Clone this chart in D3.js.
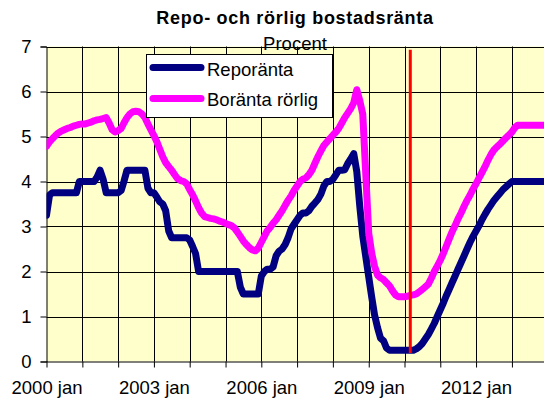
<!DOCTYPE html>
<html>
<head>
<meta charset="utf-8">
<script src="https://cdn.jsdelivr.net/npm/d3@7"></script>
<style>
  body { margin: 0; background: #fff; }
  text { font-family: "Liberation Sans", Arial, sans-serif; fill: #000; }
</style>
</head>
<body>
<div id="chart"></div>
<script>
// monthly values, first month is 2000 jan
const startMonth = "2000-01";

const repo = [
  3.25, 3.7, 3.75, 3.75, 3.75, 3.75, 3.75, 3.75, 3.75, 3.75, 3.75, 4.0,
  4.0, 4.0, 4.0, 4.0, 4.0, 4.1, 4.25, 4.05, 3.75, 3.75, 3.75, 3.75,
  3.75, 3.8, 4.0, 4.25, 4.25, 4.25, 4.25, 4.25, 4.25, 4.25, 3.85, 3.75,
  3.75, 3.65, 3.55, 3.5, 3.35, 2.9, 2.75, 2.75, 2.75, 2.75, 2.75, 2.75,
  2.7, 2.55, 2.4, 2.0, 2.0, 2.0, 2.0, 2.0, 2.0, 2.0, 2.0, 2.0,
  2.0, 2.0, 2.0, 2.0, 2.0, 1.65, 1.5, 1.5, 1.5, 1.5, 1.5, 1.5,
  1.9, 2.0, 2.05, 2.05, 2.1, 2.35, 2.45, 2.5, 2.6, 2.75, 2.95, 3.05,
  3.15, 3.25, 3.3, 3.3, 3.35, 3.45, 3.52, 3.6, 3.72, 3.9, 4.0, 4.0,
  4.05, 4.15, 4.25, 4.25, 4.26, 4.4, 4.5, 4.62, 4.22, 3.46, 2.79, 2.34,
  1.88, 1.42, 1.04, 0.75, 0.52, 0.46, 0.3, 0.25, 0.25, 0.25, 0.25, 0.25,
  0.25, 0.25, 0.25, 0.25, 0.28, 0.33, 0.4, 0.5, 0.6, 0.72, 0.85, 1.0,
  1.15, 1.3, 1.45, 1.6, 1.75, 1.9, 2.05, 2.2, 2.35, 2.5, 2.65, 2.78,
  2.9, 3.02, 3.15, 3.27, 3.38, 3.48, 3.58, 3.66, 3.74, 3.82, 3.88, 3.94,
  4.0, 4.0, 4.0, 4.0, 4.0, 4.0, 4.0, 4.0, 4.0, 4.0, 4.0, 4.0,
  4.0, 4.0, 4.0, 4.0, 4.0, 4.0
];

const bolan = [
  4.78, 4.88, 4.95, 5.02, 5.08, 5.12, 5.15, 5.18, 5.2, 5.23, 5.25, 5.27,
  5.28, 5.28, 5.3, 5.32, 5.35, 5.37, 5.38, 5.4, 5.42, 5.3, 5.15, 5.1,
  5.13, 5.18, 5.3, 5.42, 5.5, 5.55, 5.56, 5.55, 5.5, 5.42, 5.28, 5.15,
  5.02, 4.88, 4.72, 4.55, 4.42, 4.33, 4.25, 4.15, 4.06, 4.02, 4.0, 3.95,
  3.82, 3.7, 3.57, 3.42, 3.3, 3.22, 3.2, 3.18, 3.17, 3.15, 3.12, 3.1,
  3.07, 3.04, 3.02, 2.97, 2.88, 2.78, 2.68, 2.6, 2.53, 2.48, 2.46, 2.52,
  2.65, 2.78, 2.9, 2.98, 3.07, 3.15, 3.25, 3.35, 3.47, 3.58, 3.68, 3.8,
  3.9, 4.0, 4.05, 4.08, 4.15, 4.25, 4.4, 4.55, 4.68, 4.8, 4.88, 4.95,
  5.03, 5.1, 5.18, 5.3, 5.42, 5.52, 5.62, 5.75, 6.04, 5.8, 5.5, 4.2,
  2.85, 2.4, 2.12, 1.92, 1.86, 1.82, 1.75, 1.68, 1.57, 1.48, 1.44, 1.44,
  1.44, 1.45, 1.47, 1.48, 1.5, 1.55, 1.6, 1.66, 1.72, 1.85, 2.0, 2.12,
  2.25, 2.4, 2.55, 2.72, 2.88, 3.02, 3.17, 3.3, 3.45, 3.58, 3.7, 3.83,
  3.95, 4.08, 4.2, 4.33, 4.47, 4.6, 4.7, 4.77, 4.83, 4.9, 4.97, 5.03,
  5.1, 5.2, 5.25, 5.25, 5.25, 5.25, 5.25, 5.25, 5.25, 5.25, 5.25, 5.25,
  5.25, 5.25, 5.25, 5.25, 5.25, 5.25
];

// red marker line
const markerMonth = "2010-03";
const markerRange = [0.19, 6.93];

const yTicks = [0, 1, 2, 3, 4, 5, 6, 7];
const labelYears = [2000, 2003, 2006, 2009, 2012];
const seriesNames = ["Reporänta", "Boränta rörlig"];

const width = 544, height = 403;
const plot = { left: 46.5, top: 46.5, bottom: 361.5, right: 544 };

const parse = d3.timeParse("%Y-%m");
const start = parse(startMonth);
const months = repo.map((d, i) => d3.timeMonth.offset(start, i));

const svg = d3.select("#chart")
  .append("svg")
  .attr("width", width)
  .attr("height", height);

const x = d3.scaleTime()
  .domain([new Date(2000, 0, 1), new Date(2014, 0, 1)])
  .range([plot.left, plot.left + 14 * 35.8]);

const y = d3.scaleLinear()
  .domain([0, 7])
  .range([plot.bottom, plot.top]);

// plot background
svg.append("rect")
  .attr("x", plot.left)
  .attr("y", plot.top)
  .attr("width", plot.right - plot.left)
  .attr("height", plot.bottom - plot.top)
  .attr("fill", "#ffffcc");

const years = d3.timeYear.range(new Date(2000, 0, 1), new Date(2015, 0, 1));

// grid
svg.append("g")
  .selectAll("line")
  .data(years.slice(1))
  .enter()
  .append("line")
  .attr("x1", d => Math.round(x(d)) + 0.5)
  .attr("x2", d => Math.round(x(d)) + 0.5)
  .attr("y1", plot.top)
  .attr("y2", plot.bottom)
  .attr("stroke", "#000")
  .attr("stroke-width", 1);

svg.append("g")
  .selectAll("line")
  .data(yTicks.slice(1))
  .enter()
  .append("line")
  .attr("x1", plot.left)
  .attr("x2", plot.right)
  .attr("y1", d => Math.round(y(d)) + 0.5)
  .attr("y2", d => Math.round(y(d)) + 0.5)
  .attr("stroke", "#000")
  .attr("stroke-width", 1);

// axes
const yAxis = d3.axisLeft(y)
  .tickValues(yTicks)
  .tickSize(6)
  .tickPadding(9)
  .tickFormat(d3.format("d"));

const gy = svg.append("g")
  .attr("transform", "translate(" + plot.left + ",0)")
  .call(yAxis);

const xAxis = d3.axisBottom(x)
  .tickValues(years)
  .tickSize(6)
  .tickPadding(13)
  .tickFormat(d => labelYears.includes(d.getFullYear()) ? d.getFullYear() + " jan" : "");

const gx = svg.append("g")
  .attr("transform", "translate(0," + plot.bottom + ")")
  .call(xAxis);

[gx, gy].forEach(g => {
  g.selectAll("path, line").attr("stroke", "#000");
  g.selectAll("text")
    .style("font-family", "'Liberation Sans', Arial, sans-serif")
    .style("font-size", "18.5px")
    .attr("fill", "#000");
});
gx.select(".domain").attr("d", "M" + plot.left + ",0.5H" + plot.right);

// lines
svg.append("clipPath").attr("id", "clip")
  .append("rect")
  .attr("x", plot.left)
  .attr("y", 0)
  .attr("width", plot.right - plot.left)
  .attr("height", plot.bottom + 10);

const line = d3.line()
  .x((d, i) => x(months[i]))
  .y(d => y(d));

svg.append("path")
  .datum(repo)
  .attr("clip-path", "url(#clip)")
  .attr("d", line)
  .attr("fill", "none")
  .attr("stroke", "#000080")
  .attr("stroke-width", 7)
  .attr("stroke-linejoin", "round")
  .attr("stroke-linecap", "round");

svg.append("path")
  .datum(bolan)
  .attr("clip-path", "url(#clip)")
  .attr("d", line)
  .attr("fill", "none")
  .attr("stroke", "#ff00ff")
  .attr("stroke-width", 7)
  .attr("stroke-linejoin", "round")
  .attr("stroke-linecap", "round");

const mx = x(parse(markerMonth));
svg.append("line")
  .attr("x1", mx)
  .attr("x2", mx)
  .attr("y1", y(markerRange[0]))
  .attr("y2", y(markerRange[1]))
  .attr("stroke", "#ff0000")
  .attr("stroke-width", 3);

// titles
svg.append("text")
  .attr("x", 295)
  .attr("y", 23.5)
  .attr("text-anchor", "middle")
  .style("font-size", "18px")
  .style("font-weight", "bold")
  .style("letter-spacing", "0.7px")
  .text("Repo- och rörlig bostadsränta");

svg.append("text")
  .attr("x", 295)
  .attr("y", 49.5)
  .attr("text-anchor", "middle")
  .style("font-size", "18.5px")
  .text("Procent");

// legend
const legend = svg.append("g");
legend.append("rect")
  .attr("x", 146.5)
  .attr("y", 54.5)
  .attr("width", 186)
  .attr("height", 63)
  .attr("fill", "#fff")
  .attr("stroke", "#000")
  .attr("stroke-width", 1);

const legendColors = ["#000080", "#ff00ff"];
seriesNames.forEach((name, i) => {
  const ly = 67.5 + i * 31;
  legend.append("line")
    .attr("x1", 153)
    .attr("x2", 201)
    .attr("y1", ly)
    .attr("y2", ly)
    .attr("stroke", legendColors[i])
    .attr("stroke-width", 7)
    .attr("stroke-linecap", "round");
  legend.append("text")
    .attr("x", 207)
    .attr("y", 76 + i * 30)
    .style("font-size", "18.5px")
    .text(name);
});
</script>
</body>
</html>
